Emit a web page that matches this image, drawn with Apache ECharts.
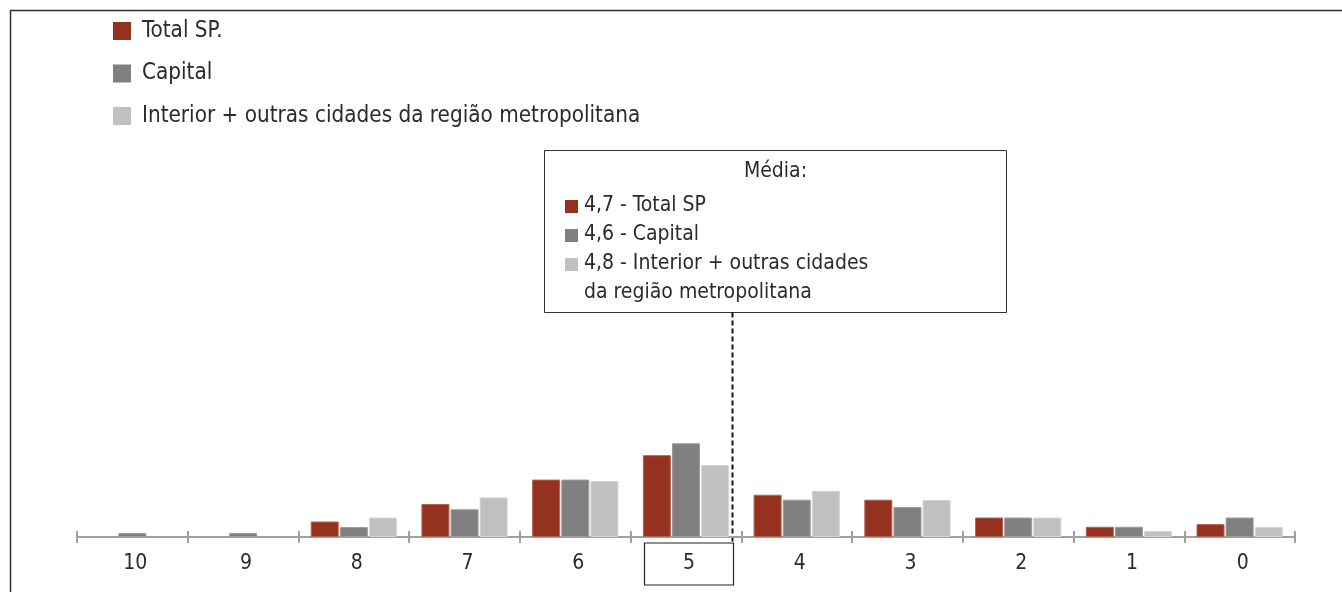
<!DOCTYPE html>
<html>
<head>
<meta charset="utf-8">
<script src="https://cdn.jsdelivr.net/npm/echarts@6/dist/echarts.min.js"></script>
<style>
  html, body { margin: 0; padding: 0; background: #fff; }
  #chart { width: 1342px; height: 592px; }
</style>
</head>
<body>
<div id="chart"></div>
<script>
// Notas de 10 a 0 (eixo horizontal)
const categories = ['10', '9', '8', '7', '6', '5', '4', '3', '2', '1', '0'];

// Distribuição das notas (%)
const totalSP   = [0,   0,   4.7, 10,  17.4, 24.8, 12.8, 11.3, 5.9, 3.1, 3.9];
const capital   = [1.2, 1.2, 3.0, 8.4, 17.4, 28.4, 11.3, 9.1,  5.9, 3.1, 5.9];
const interior  = [0,   0,   5.9, 12,  17.0, 21.8, 14.0, 11.2, 5.9, 1.8, 3.0];

const seriesNames = ['Total SP.', 'Capital', 'Interior + outras cidades da região metropolitana'];
const meanLabels  = ['4,7 - Total SP', '4,6 - Capital', '4,8 - Interior + outras cidades', 'da região metropolitana'];
const meanCategory = '5';

const colors = ['#94321f', '#808080', '#c0c0c0'];
const borders = ['#b5604f', '#9a9a9a', '#d4d4d4'];
const FONT = '"Liberation Sans Narrow", "DejaVu Sans Condensed", sans-serif';
const TEXT = '#2b2b2b';

const chart = echarts.init(document.getElementById('chart'), null, { renderer: 'canvas' });

function bar(name, data, i) {
  return {
    name: name,
    type: 'bar',
    // empty cells are left out so no outline is drawn on the baseline
    data: data.map(v => (v === 0 ? '-' : v)),
    barWidth: 28,
    barGap: '4%',
    itemStyle: { color: colors[i], borderColor: borders[i], borderWidth: 1 },
    emphasis: { disabled: true },
    animation: false
  };
}

const labelRich = {
  n: { fontFamily: FONT, fontSize: 21, color: TEXT, width: 89, height: 42, lineHeight: 42, align: 'center' },
  box: { fontFamily: FONT, fontSize: 21, color: TEXT, width: 89, height: 42, lineHeight: 42, align: 'center',
         borderColor: '#222', borderWidth: 1.2 }
};

chart.setOption({
  animation: false,
  color: colors,
  legend: {
    orient: 'vertical',
    left: 113,
    top: 20,
    padding: 0,
    itemWidth: 18,
    itemHeight: 18,
    itemGap: 20.5,
    icon: 'rect',
    selectedMode: false,
    data: seriesNames,
    itemStyle: { borderWidth: 0 },
    textStyle: { fontFamily: FONT, fontSize: 22.3, color: TEXT, lineHeight: 20, padding: [0, 0, 0, 6] }
  },
  grid: { left: 77, right: 47, top: 207, bottom: 55, containLabel: false },
  xAxis: [{
    type: 'category',
    data: categories,
    boundaryGap: true,
    axisLine: { show: true, lineStyle: { color: '#a0a0a0', width: 2 } },
    axisTick: { show: true, length: 6, lineStyle: { color: '#a0a0a0', width: 2 } },
    axisLabel: {
      margin: 6,
      padding: [0, 0, 0, 6],
      formatter: v => v === meanCategory ? '{box|' + v + '}' : '{n|' + v + '}',
      rich: labelRich
    }
  }, {
    // inner half of the tick marks, crossing the axis line
    type: 'category',
    data: categories,
    position: 'bottom',
    boundaryGap: true,
    axisLine: { show: false },
    axisTick: { show: true, inside: true, length: 6, lineStyle: { color: '#a0a0a0', width: 2 } },
    axisLabel: { show: false }
  }],
  yAxis: {
    type: 'value',
    min: 0,
    max: 100,
    show: false,
    splitLine: { show: false }
  },
  series: [
    bar(seriesNames[0], totalSP, 0),
    bar(seriesNames[1], capital, 1),
    bar(seriesNames[2], interior, 2)
  ]
});

// Annotation: mean box, dashed connector and outer frame
const center5 = chart.convertToPixel({ xAxisIndex: 0 }, meanCategory);
const base = chart.convertToPixel({ yAxisIndex: 0 }, 0);
const lineX = Math.round(center5 + 46) + 0.5;

const box = { x: 544.5, y: 150.5, w: 462, h: 162 };
const meanItems = [];
meanItems.push({
  type: 'text',
  style: { x: box.x + box.w / 2, y: 172, text: 'Média:', fontFamily: FONT, fontSize: 21,
           fill: TEXT, align: 'center', verticalAlign: 'middle' }
});
const rowY = [206, 235, 264, 293];
meanLabels.forEach((t, i) => {
  if (i < 3) {
    meanItems.push({
      type: 'rect',
      shape: { x: 565, y: rowY[i] - 6, width: 13, height: 13 },
      style: { fill: colors[i] }
    });
  }
  meanItems.push({
    type: 'text',
    style: { x: 584, y: rowY[i], text: t, fontFamily: FONT, fontSize: 21, fill: TEXT,
             align: 'left', verticalAlign: 'middle' }
  });
});

chart.setOption({
  graphic: [
    {
      type: 'polyline',
      shape: { points: [[10.5, 592], [10.5, 10.5], [1342, 10.5]] },
      style: { stroke: '#333', lineWidth: 1.5, fill: null }
    },
    {
      type: 'rect',
      shape: { x: box.x, y: box.y, width: box.w, height: box.h },
      style: { fill: '#fff', stroke: '#333', lineWidth: 1 }
    },
    {
      type: 'line',
      shape: { x1: lineX, y1: box.y + box.h, x2: lineX, y2: base + 6 },
      style: { stroke: '#111', lineWidth: 2, lineDash: [5, 3] }
    }
  ].concat(meanItems)
});
</script>
</body>
</html>
